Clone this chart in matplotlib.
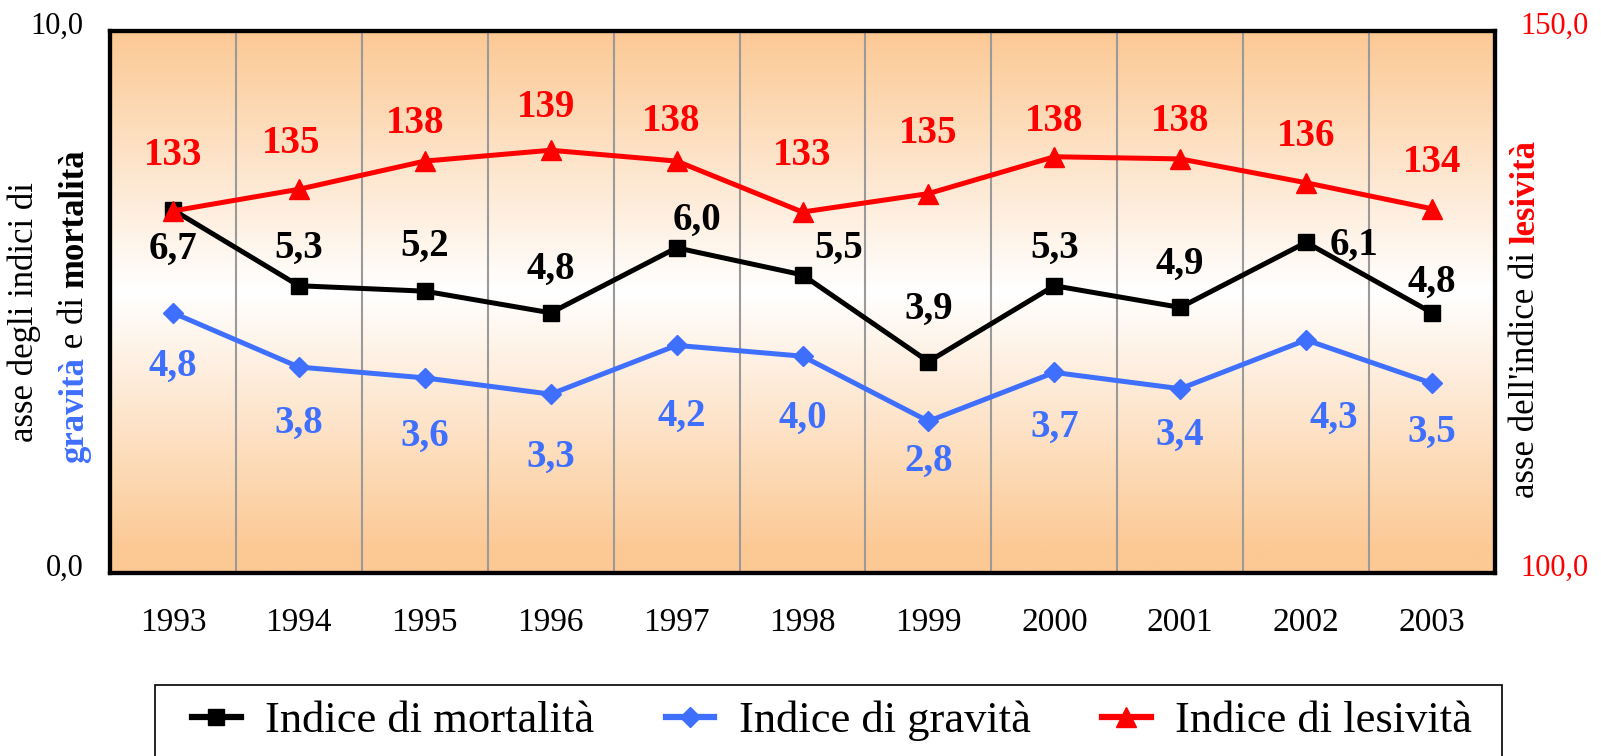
import numpy as np
import matplotlib.pyplot as plt
from matplotlib.colors import LinearSegmentedColormap
from matplotlib.lines import Line2D
from matplotlib.patches import Rectangle
from matplotlib.transforms import IdentityTransform, ScaledTranslation

plt.rcParams['font.family'] = ['Liberation Serif', 'DejaVu Serif']

# dati
anni = ['1993', '1994', '1995', '1996', '1997', '1998', '1999', '2000', '2001', '2002', '2003']
mortalita = [6.7, 5.3, 5.2, 4.8, 6.0, 5.5, 3.9, 5.3, 4.9, 6.1, 4.8]
gravita = [4.8, 3.8, 3.6, 3.3, 4.2, 4.0, 2.8, 3.7, 3.4, 4.3, 3.5]
lesivita = [133.4, 135.4, 138.0, 139.0, 138.0, 133.3, 135.0, 138.4, 138.2, 136.0, 133.6]

# spostamenti delle etichette (pixel, +y verso il basso come nell'immagine)
off_mort = [(0, 39), (0, -37), (0, -44), (0, -43), (20, -27), (35, -26),
            (0, -51), (0, -37), (0, -42), (47, 3), (0, -30)]
off_grav = [(0, 52), (0, 55), (0, 57), (0, 62), (5, 70), (0, 61),
            (0, 39), (0, 54), (0, 46), (27, 77), (0, 48)]
off_les = [(0, -54), (-8, -45), (-10, -37), (-5, -42), (-5, -39), (0, -55),
           (0, -59), (0, -35), (0, -37), (0, -45), (0, -45)]
k = 1.021

BLU = '#3f6fff'
ROSSO = '#ff0000'

W, H = 1601, 756
fig = plt.figure(figsize=(W / 100, H / 100), dpi=100)
ax = fig.add_axes([110 / W, 1 - 573 / H, (1495 - 110) / W, (573 - 31) / H])

x = np.arange(len(anni))

# sfondo sfumato
cmap = LinearSegmentedColormap.from_list('sf', ['#ffffff', '#fcc994'])
yy = np.linspace(0, 1, 300)
z = np.abs(yy - 0.52) / 0.48
ax.imshow(z[:, None], extent=(-0.5, 10.5, 0, 10), aspect='auto', cmap=cmap,
          origin='lower', vmin=0, vmax=1, zorder=0, interpolation='bilinear')
for xv in np.arange(0.5, 10, 1):
    ax.axvline(xv, color='#9a9a9a', lw=1.5, zorder=1)

ax.plot(x, mortalita, color='black', lw=3.6, marker='s', ms=12, zorder=3)
ax.plot(x, gravita, color=BLU, lw=3.6, marker='D', ms=10, zorder=3)
ax.set_xlim(-0.5, 10.5)
ax.set_ylim(0, 10)

ax2 = ax.twinx()
ax2.plot(x, lesivita, color=ROSSO, lw=3.6, marker='^', ms=15, zorder=3)
ax2.set_ylim(100, 150)

for a in (ax, ax2):
    for s in a.spines.values():
        s.set_linewidth(3)
        s.set_color('black')

ax.set_xticks(x)
ax.set_xticklabels(anni)
ax.tick_params(axis='x', length=0, pad=25, labelsize=24)
ax.set_yticks([0, 10])
ax.set_yticklabels(['0,0', '10,0'])
ax.tick_params(axis='y', length=0, pad=19, labelsize=22)
ax2.set_yticks([100, 150])
ax2.set_yticklabels(['100,0', '150,0'])
ax2.tick_params(axis='y', length=0, pad=18, labelsize=22, labelcolor=ROSSO)

# etichette degli assi y un po' più in alto, come nell'originale
su = ScaledTranslation(0, 6 / 72, fig.dpi_scale_trans)
for lab in ax.get_yticklabels() + ax2.get_yticklabels():
    lab.set_transform(lab.get_transform() + su)


def fmt(v):
    return f'{v:.1f}'.replace('.', ',')


for i in range(len(anni)):
    dx, dy = off_mort[i]
    ax.annotate(fmt(mortalita[i]), (x[i], mortalita[i]), xytext=(dx * k, -dy * k),
                textcoords='offset pixels', ha='center', va='center',
                fontsize=28, fontweight='bold', color='black', zorder=5)
    dx, dy = off_grav[i]
    ax.annotate(fmt(gravita[i]), (x[i], gravita[i]), xytext=(dx * k, -dy * k),
                textcoords='offset pixels', ha='center', va='center',
                fontsize=28, fontweight='bold', color=BLU, zorder=5)
    dx, dy = off_les[i]
    ax2.annotate(f'{lesivita[i]:.0f}', (x[i], lesivita[i]), xytext=(dx * k, -dy * k),
                 textcoords='offset pixels', ha='center', va='center',
                 fontsize=28, fontweight='bold', color=ROSSO, zorder=5)


def testo_verticale(xp, yc, pezzi, size):
    r = fig.canvas.get_renderer()
    larg = []
    for s, kw in pezzi:
        t1 = fig.text(0, 0, 'x' + s + 'x', fontsize=size, **kw)
        t2 = fig.text(0, 0, 'xx', fontsize=size, **kw)
        larg.append(t1.get_window_extent(r).width - t2.get_window_extent(r).width)
        t1.remove()
        t2.remove()
    y = (H - yc) - sum(larg) / 2
    for (s, kw), w in zip(pezzi, larg):
        fig.text(xp, y, s, transform=IdentityTransform(), rotation=90,
                 rotation_mode='anchor', ha='left', va='baseline', fontsize=size, **kw)
        y += w


nero = {'color': 'black'}
testo_verticale(33, 312, [('asse degli indici di', nero)], 25)
testo_verticale(83, 306, [('gravità', {'color': BLU, 'fontweight': 'bold'}),
                          (' e di ', nero),
                          ('mortalità', {'color': 'black', 'fontweight': 'bold'})], 25)
testo_verticale(1534, 319, [("asse dell'indice di ", nero),
                            ('lesività', {'color': ROSSO, 'fontweight': 'bold'})], 25)

# legenda
handles = [Line2D([], [], color='black', lw=4.5, marker='s', ms=12),
           Line2D([], [], color=BLU, lw=4.5, marker='D', ms=10),
           Line2D([], [], color=ROSSO, lw=4.5, marker='^', ms=14)]
labels = ['Indice di mortalità', 'Indice di gravità', 'Indice di lesività']
fig.legend(handles, labels, loc='center left', bbox_to_anchor=(192 / W, 1 - 721 / H),
           frameon=False, ncol=3, handlelength=1.1, handletextpad=0.55,
           columnspacing=1.6, borderpad=0, borderaxespad=0, fontsize=32)
fig.add_artist(Rectangle((155 / W, -0.05), (1502 - 155) / W, 1 - 685 / H + 0.05,
                         transform=fig.transFigure, fill=False, edgecolor='black', lw=1.2))

fig.savefig('out.png', dpi=100)
